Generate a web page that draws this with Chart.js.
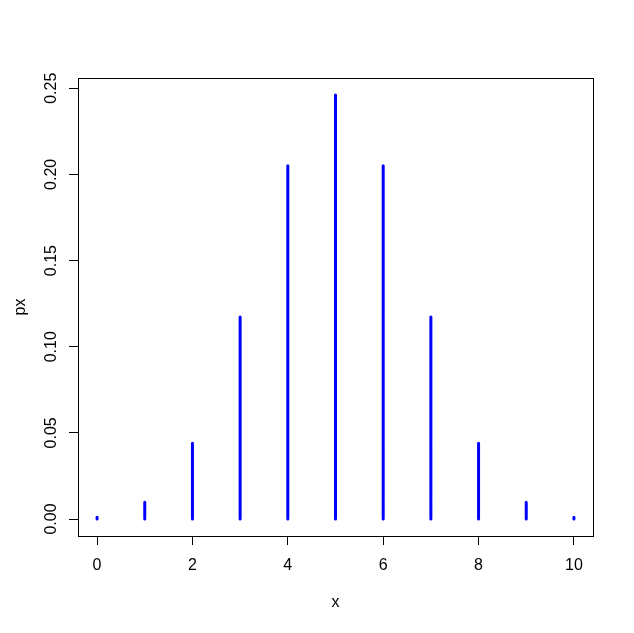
<!DOCTYPE html>
<html>
<head>
<meta charset="utf-8">
<script src="https://cdn.jsdelivr.net/npm/chart.js@4"></script>
<style>
  html, body { margin: 0; padding: 0; background: #fff; }
  #wrap { width: 634px; height: 633px; }
</style>
</head>
<body>
<div id="wrap"><canvas id="chart"></canvas></div>
<script>
// binomial pmf, n = 10, p = 0.5
const xs = [0, 1, 2, 3, 4, 5, 6, 7, 8, 9, 10];
const px = [0.000977, 0.009766, 0.043945, 0.117188, 0.205078, 0.246094,
            0.205078, 0.117188, 0.043945, 0.009766, 0.000977];
const xTicks = [0, 2, 4, 6, 8, 10];
const yTicks = [0, 0.05, 0.10, 0.15, 0.20, 0.25];
const xTitle = "x";
const yTitle = "px";

const font = { family: "'Liberation Sans', Arial, sans-serif", size: 16 };

// type="h": one vertical segment per x, broken by null points
const spikes = [];
xs.forEach((x, i) => {
  spikes.push({ x: x, y: 0 });
  spikes.push({ x: x, y: px[i] });
  spikes.push({ x: x, y: null });
});

// box around the plot region, like R's box()
const boxPlugin = {
  id: 'box',
  afterDraw(c) {
    const a = c.chartArea, ctx = c.ctx;
    ctx.save();
    ctx.strokeStyle = '#000';
    ctx.lineWidth = 1;
    ctx.strokeRect(Math.round(a.left) + 0.5, Math.round(a.top) + 0.5,
                   Math.round(a.right - a.left), Math.round(a.bottom - a.top));
    ctx.restore();
  }
};

new Chart(document.getElementById('chart'), {
  type: 'line',
  data: {
    datasets: [{
      data: spikes,
      borderColor: '#0000ff',
      borderWidth: 3,
      borderCapStyle: 'round',
      pointRadius: 0,
      spanGaps: false,
      tension: 0
    }]
  },
  options: {
    responsive: true,
    maintainAspectRatio: false,
    animation: false,
    layout: { padding: { left: 0, top: 78, right: 41, bottom: 0 } },
    plugins: { legend: { display: false }, tooltip: { enabled: false } },
    scales: {
      x: {
        type: 'linear',
        min: -0.4,
        max: 10.4,
        afterBuildTicks: s => { s.ticks = xTicks.map(v => ({ value: v })); },
        afterFit: s => { s.height = 97; },
        grid: { drawOnChartArea: false, drawTicks: true, tickLength: 9, color: '#000', lineWidth: 1 },
        border: { display: true, color: '#000', width: 1 },
        ticks: { color: '#000', font: font, padding: 11, maxRotation: 0, autoSkip: false },
        title: { display: true, text: xTitle, color: '#000', font: font, padding: { top: 0, bottom: 21 } }
      },
      y: {
        type: 'linear',
        min: -0.00984,
        max: 0.25594,
        afterBuildTicks: s => { s.ticks = yTicks.map(v => ({ value: v })); },
        afterFit: s => { s.width = 78; },
        grid: { drawOnChartArea: false, drawTicks: true, tickLength: 9, color: '#000', lineWidth: 1 },
        border: { display: true, color: '#000', width: 1 },
        ticks: {
          color: '#000', font: font, padding: 2, minRotation: 90, maxRotation: 90,
          crossAlign: 'center', autoSkip: false,
          callback: v => v.toFixed(2)
        },
        title: { display: true, text: yTitle, color: '#000', font: font, padding: { top: 10.5, bottom: 0 } }
      }
    }
  },
  plugins: [boxPlugin]
});
</script>
</body>
</html>
